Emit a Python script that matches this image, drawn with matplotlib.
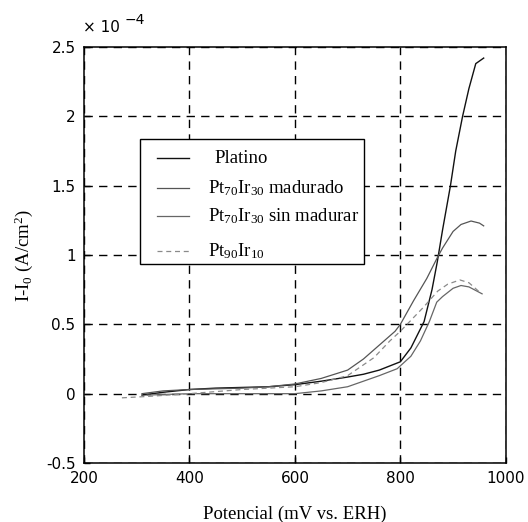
"""Curvas I-I0 vs potencial para Platino y aleaciones Pt-Ir (estilo MATLAB antiguo)."""

import matplotlib

matplotlib.use("Agg")

import matplotlib.pyplot as plt  # noqa: E402
from matplotlib.patches import Rectangle  # noqa: E402

plt.rcParams["font.family"] = ["Liberation Serif", "DejaVu Serif"]
plt.rcParams["mathtext.fontset"] = "custom"
plt.rcParams["mathtext.rm"] = "Liberation Serif"
plt.rcParams["mathtext.it"] = "Liberation Serif:italic"

# potencial (mV vs. ERH) e I-I0 (x 1e-4 A/cm2)
platino_x = [310, 350, 400, 450, 500, 550, 600, 650, 700, 730, 760, 800, 820,
             845, 860, 870, 880, 895, 905, 918, 930, 943, 958]
platino_y = [-0.01, 0.01, 0.03, 0.04, 0.045, 0.05, 0.065, 0.09, 0.12, 0.14,
             0.17, 0.23, 0.33, 0.52, 0.75, 0.95, 1.18, 1.5, 1.75, 2.0, 2.2,
             2.38, 2.42]

madurado_x = [310, 350, 400, 450, 500, 550, 600, 650, 700, 730, 760, 790, 800,
              825, 850, 870, 880, 900, 915, 934, 950, 958]
madurado_y = [0.0, 0.02, 0.03, 0.035, 0.04, 0.05, 0.07, 0.11, 0.17, 0.25, 0.35,
              0.45, 0.5, 0.67, 0.83, 0.98, 1.05, 1.17, 1.22, 1.245, 1.23, 1.21]

sin_madurar_x = [320, 400, 500, 600, 650, 700, 730, 760, 794, 820, 838, 855,
                 869, 880, 900, 915, 930, 945, 955]
sin_madurar_y = [-0.01, 0.0, 0.0, 0.0, 0.02, 0.05, 0.09, 0.13, 0.18, 0.27,
                 0.38, 0.52, 0.66, 0.7, 0.76, 0.78, 0.77, 0.74, 0.72]

pt90_x = [272, 320, 400, 500, 600, 650, 700, 750, 780, 800, 843, 871, 890,
          913, 930, 951]
pt90_y = [-0.03, -0.02, 0.0, 0.03, 0.05, 0.08, 0.13, 0.26, 0.38, 0.45, 0.62,
          0.74, 0.79, 0.82, 0.8, 0.73]

x_ticks = [200, 400, 600, 800, 1000]
y_ticks = [-0.5, 0, 0.5, 1, 1.5, 2, 2.5]
y_ticklabels = ["-0.5", "0", "0.5", "1", "1.5", "2", "2.5"]

labels = ["Platino", r"Pt$_{70}$Ir$_{30}$ madurado",
          r"Pt$_{70}$Ir$_{30}$ sin madurar", r"Pt$_{90}$Ir$_{10}$"]

styles = [
    dict(color="#111111", lw=1.0, ls="-"),
    dict(color="#555555", lw=0.9, ls="-"),
    dict(color="#666666", lw=0.9, ls="-"),
    dict(color="#8a8a8a", lw=0.9, ls=(0, (4, 3))),
]

fig = plt.figure(figsize=(5.28, 5.22), dpi=100)
ax = fig.add_axes([0.159, 0.113, 0.799, 0.797])

series = [(platino_x, platino_y), (madurado_x, madurado_y),
          (sin_madurar_x, sin_madurar_y), (pt90_x, pt90_y)]
for (xs, ys), st in zip(series, styles):
    ax.plot(xs, ys, **st)

ax.set_xlim(200, 1000)
ax.set_ylim(-0.5, 2.5)
ax.set_xticks(x_ticks)
ax.set_yticks(y_ticks)
ax.set_yticklabels(y_ticklabels)
ax.grid(True, color="black", lw=1.0, ls=(0, (6, 4.5)))
ax.tick_params(direction="in", length=4, width=1, labelsize=11, pad=6)
for lab in ax.get_xticklabels() + ax.get_yticklabels():
    lab.set_family("DejaVu Sans")
for sp in ax.spines.values():
    sp.set_linewidth(1.1)
    sp.set_zorder(3)

ax.set_xlabel("Potencial (mV vs. ERH)", fontsize=13.5, labelpad=14)
ax.set_ylabel(r"I-I$_0$ (A/cm$^2$)", fontsize=13.5, labelpad=8)

# leyenda con el recuadro y la disposicion del original
ax.add_patch(Rectangle((0.133, 0.478), 0.531, 0.301, transform=ax.transAxes,
                       facecolor="white", edgecolor="black", lw=1.0, zorder=5))
row_y = [0.733, 0.661, 0.594, 0.510]
text_x = [0.310, 0.294, 0.294, 0.294]
for lab, st, ry, tx in zip(labels, styles, row_y, text_x):
    ax.plot([0.173, 0.249], [ry, ry], transform=ax.transAxes, zorder=6, **st)
    ax.text(tx, ry, lab, transform=ax.transAxes, fontsize=13.5, va="center",
            ha="left", zorder=6)

fig.text(0.157, 0.938, "\u00d7 10", fontsize=11, family="DejaVu Sans")
fig.text(0.236, 0.954, "\u22124", fontsize=10, family="DejaVu Sans")

fig.savefig("out.png", dpi=100)
